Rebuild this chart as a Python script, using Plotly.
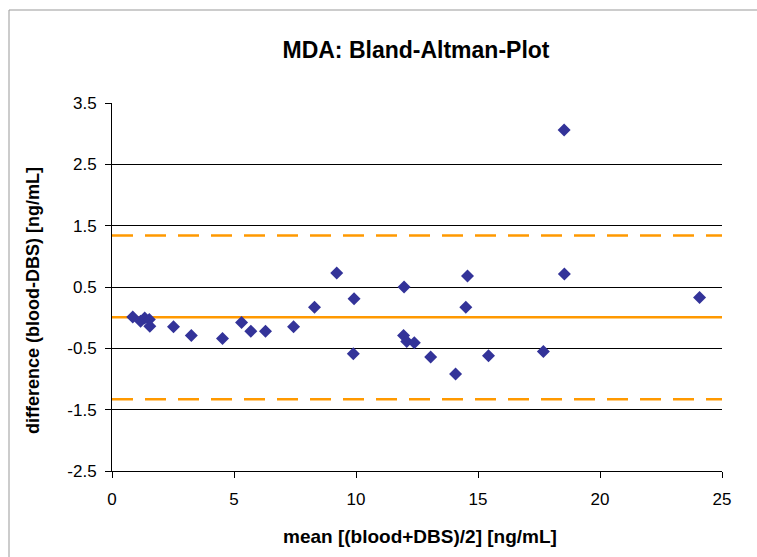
import plotly.graph_objects as go

# Data
mean_vals = [0.85, 1.17, 1.34, 1.53, 1.55, 2.52, 3.25, 4.53, 5.31, 5.69, 6.29, 7.44,
             8.30, 9.21, 9.92, 9.89, 11.97, 11.95, 12.08, 12.39, 13.06, 14.08, 14.57,
             14.50, 15.43, 17.68, 18.54, 18.53, 24.08]
diff_vals = [0.01, -0.06, -0.005, -0.03, -0.14, -0.15, -0.29, -0.34, -0.08, -0.22, -0.22, -0.15,
             0.17, 0.73, 0.31, -0.59, 0.50, -0.29, -0.39, -0.41, -0.64, -0.92, 0.68,
             0.17, -0.62, -0.55, 0.71, 3.06, 0.33]
bias = 0.005
upper_loa = 1.34
lower_loa = -1.33
y_ticks = [-2.5, -1.5, -0.5, 0.5, 1.5, 2.5, 3.5]
x_ticks = [0, 5, 10, 15, 20, 25]

ORANGE = "#FF9900"
BLUE = "#333399"
FONT = "Liberation Sans, Arial, sans-serif"

fig = go.Figure()
fig.add_trace(go.Scatter(
    x=mean_vals, y=diff_vals, mode="markers",
    marker=dict(symbol="diamond", size=10, color=BLUE, line=dict(width=0)),
    showlegend=False, cliponaxis=False,
))

# bias and limits of agreement
fig.add_shape(type="line", xref="paper", yref="y", x0=0, x1=1, y0=bias, y1=bias,
              line=dict(color=ORANGE, width=2.5), layer="below")
for v in (upper_loa, lower_loa):
    fig.add_shape(type="line", xref="paper", yref="y", x0=0, x1=1, y0=v, y1=v,
                  line=dict(color=ORANGE, width=2.5, dash="21px,12px"), layer="below")

# outer chart border (top + left)
W, H = 757, 557
L, R, T, B = 112, 35, 103, 86
pw, ph = W - L - R, H - T - B
px = lambda x: (x - L) / pw
py = lambda y: (H - B - y) / ph
fig.add_shape(type="line", xref="paper", yref="paper", x0=px(9), x1=px(760),
              y0=py(10), y1=py(10), line=dict(color="#999999", width=1))
fig.add_shape(type="line", xref="paper", yref="paper", x0=px(9), x1=px(9),
              y0=py(10), y1=py(560), line=dict(color="#999999", width=1))

fig.update_layout(
    width=W, height=H,
    margin=dict(l=L, r=R, t=T, b=B),
    paper_bgcolor="white", plot_bgcolor="white",
    font=dict(family=FONT, size=17, color="black"),
    title=dict(text="<b>MDA: Bland-Altman-Plot</b>", x=px(416), xref="paper",
               xanchor="center", y=1 - 50 / H, yanchor="middle",
               font=dict(size=23, family=FONT, color="black")),
    xaxis=dict(range=[0, 25], tickvals=x_ticks, ticktext=[str(v) for v in x_ticks],
               showgrid=False, zeroline=False, showline=True, linecolor="black",
               linewidth=1, ticks="outside", ticklen=6, tickcolor="black",
               ticklabelstandoff=7, tickfont=dict(size=17)),
    yaxis=dict(range=[-2.5, 3.5], tickvals=y_ticks, ticktext=[f"{v:.1f}" for v in y_ticks],
               showgrid=True, gridcolor="black", gridwidth=1, zeroline=False,
               showline=True, linecolor="black", linewidth=1, ticks="outside",
               ticklen=6, tickcolor="black", ticklabelstandoff=5, tickfont=dict(size=17)),
    annotations=[
        dict(text="<b>mean [(blood+DBS)/2] [ng/mL]</b>", xref="paper", yref="paper",
             x=px(420), y=py(536), xanchor="center", yanchor="middle", showarrow=False,
             font=dict(size=19)),
        dict(text="<b>difference (blood-DBS) [ng/mL]</b>", xref="paper", yref="paper",
             x=px(33), y=py(301), xanchor="center", yanchor="middle", showarrow=False,
             textangle=-90, font=dict(size=18)),
    ],
)

fig.write_html("out.html")
